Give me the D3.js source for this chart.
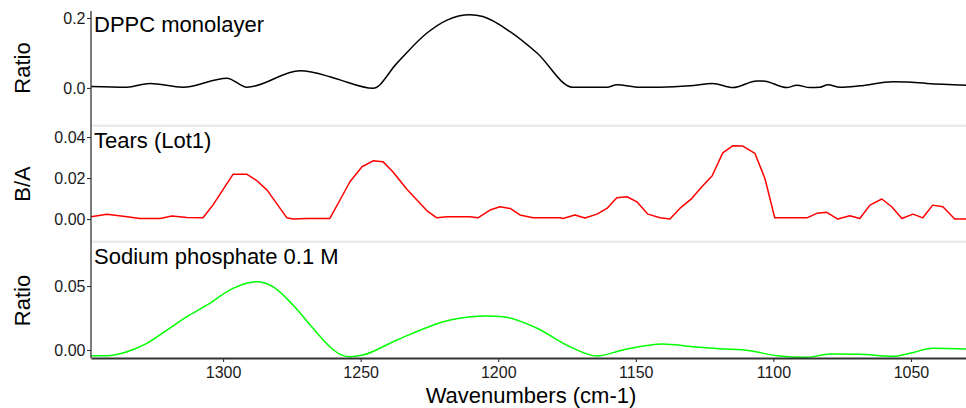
<!DOCTYPE html>
<html>
<head>
<meta charset="utf-8">
<script src="https://cdn.jsdelivr.net/npm/d3@7"></script>
<style>
  html, body { margin: 0; padding: 0; background: #fff; }
  svg { display: block; font-family: "Liberation Sans", Arial, sans-serif; }
</style>
</head>
<body>
<div id="chart"></div>
<script>
// DPPC monolayer (black)
const dppcWn = [1348, 1335, 1326.6, 1314.6, 1298.6, 1291.3, 1272, 1261.2, 1257.5, 1245.5, 1236.8,
  1225.9, 1218.6, 1210.3, 1205.6, 1195.7, 1185.9, 1172.9, 1160.5, 1156.9, 1148.5, 1141.2, 1130.3,
  1122, 1114.7, 1106, 1103.8, 1095.1, 1091.5, 1086.7, 1083.1, 1080.2, 1075.8, 1068.6, 1056.6,
  1051.5, 1044.2, 1030];
const dppcRatio = [0.004, 0.002, 0.013, 0.002, 0.028, 0.002, 0.049, 0.032, 0.023, -0.001, 0.071,
  0.157, 0.194, 0.209, 0.204, 0.161, 0.100, 0.002, 0.002, 0.009, 0.002, 0.002, 0.006,
  0.013, 0.001, 0.020, 0.020, 0.001, 0.008, 0.001, 0.002, 0.009, 0.002, 0.006, 0.018,
  0.017, 0.013, 0.008];

// Tears (Lot1) (red)
const tearsWn = [1348, 1342.2, 1334.9, 1330.2, 1322.9, 1318.6, 1313.1, 1307.3, 1303.7, 1296.4,
  1291.3, 1287.7, 1284, 1276.8, 1274.6, 1269.5, 1261.2, 1257.5, 1253.9, 1249.5, 1245.5, 1241.9,
  1238.3, 1233.2, 1225.9, 1222.3, 1218.6, 1215, 1210.3, 1207.4, 1203, 1199.4, 1195.7, 1192.1,
  1187.4, 1177.6, 1176.5, 1172.1, 1168.5, 1164.1, 1160.5, 1156.9, 1153.2, 1149.6, 1145.6, 1141.2,
  1137.6, 1134, 1129.6, 1126, 1122.3, 1118.4, 1114.7, 1111.1, 1106.7, 1103.1, 1099.5, 1092.9,
  1087.8, 1084.2, 1080.6, 1076.6, 1072.2, 1068.6, 1064.9, 1060.6, 1057, 1053.3, 1049.3, 1045.7,
  1042.1, 1038.4, 1034.1, 1030];
const tearsBA = [0.0011, 0.0023, 0.0011, 0.0003, 0.0003, 0.0015, 0.0008, 0.0006, 0.0068, 0.0218,
  0.0218, 0.0187, 0.0141, 0.0006, 0.0000, 0.0003, 0.0003, 0.0093, 0.0182, 0.0255, 0.0284, 0.0280,
  0.0231, 0.0145, 0.0040, 0.0006, 0.0011, 0.0011, 0.0011, 0.0006, 0.0044, 0.0060, 0.0052, 0.0020,
  0.0006, 0.0006, 0.0003, 0.0020, 0.0005, 0.0024, 0.0052, 0.0104, 0.0109, 0.0084, 0.0024, 0.0006,
  0.0000, 0.0052, 0.0101, 0.0158, 0.0210, 0.0323, 0.0358, 0.0356, 0.0320, 0.0199, 0.0006, 0.0006,
  0.0006, 0.0028, 0.0033, 0.0000, 0.0016, 0.0003, 0.0068, 0.0098, 0.0060, 0.0003, 0.0024, 0.0006,
  0.0068, 0.0060, 0.0000, 0.0000];

// Sodium phosphate 0.1 M (green)
const phosWn = [1348, 1342.2, 1334.9, 1327.7, 1320.4, 1313.1, 1305.8, 1296.4, 1287.7, 1281.9,
  1274.6, 1267.3, 1261.2, 1257.5, 1253.9, 1249.2, 1236.8, 1217.5, 1204.1, 1198.3, 1185.9, 1174,
  1164.1, 1154.7, 1140.2, 1129.3, 1119.4, 1108.5, 1098.7, 1087.8, 1079.5, 1068.6, 1056.6, 1050.4,
  1042.1, 1030];
const phosRatio = [-0.0045, -0.0045, -0.0013, 0.0052, 0.0156, 0.0260, 0.0352, 0.0482, 0.0534, 0.0495,
  0.0352, 0.0170, 0.0026, -0.0034, -0.0052, -0.0039, 0.0078, 0.0234, 0.0266, 0.0260, 0.0170, 0.0026,
  -0.0047, 0.0000, 0.0047, 0.0026, 0.0010, -0.0005, -0.0045, -0.0057, -0.0031, -0.0034, -0.0049, -0.0026,
  0.0013, 0.0008];

const xTicks = [1300, 1250, 1200, 1150, 1100, 1050];

const panels = [
  { title: 'DPPC monolayer', yLabel: 'Ratio', wn: dppcWn, vals: dppcRatio, color: '#000000',
    domain: [-0.106, 0.22], ticks: [0.0, 0.2], fmt: '.1f', top: 11, bottom: 125, curve: d3.curveMonotoneX },
  { title: 'Tears (Lot1)', yLabel: 'B/A', wn: tearsWn, vals: tearsBA, color: '#ff0000',
    domain: [-0.0107, 0.0449], ticks: [0.00, 0.02, 0.04], fmt: '.2f', top: 127, bottom: 241, curve: d3.curveLinear },
  { title: 'Sodium phosphate 0.1 M', yLabel: 'Ratio', wn: phosWn, vals: phosRatio, color: '#00ff00',
    domain: [-0.00625, 0.0836], ticks: [0.00, 0.05], fmt: '.2f', top: 243, bottom: 358, curve: d3.curveMonotoneX },
];

const W = 966, H = 408;
const LEFT = 91, RIGHT = 966;

const svg = d3.select('#chart').append('svg')
  .attr('width', W).attr('height', H);

const x = d3.scaleLinear().domain([1348, 1030]).range([LEFT, RIGHT]);

panels.forEach((p, i) => {
  const y = d3.scaleLinear().domain(p.domain).range([p.bottom, p.top]);

  // separator band above panels 2 and 3
  if (i > 0) {
    svg.append('rect')
      .attr('x', LEFT).attr('y', p.top - 2.5)
      .attr('width', RIGHT - LEFT).attr('height', 2.5)
      .attr('fill', '#ebebeb');
  }

  const ax = svg.append('g')
    .attr('transform', `translate(${LEFT},0)`)
    .call(d3.axisLeft(y).tickValues(p.ticks).tickFormat(d3.format(p.fmt)).tickSize(4).tickSizeOuter(0));
  ax.select('.domain').remove();
  ax.selectAll('line').attr('stroke', '#333').attr('stroke-width', 1.1);
  ax.selectAll('text').attr('fill', '#1a1a1a').style('font-size', '16px').attr('x', -5.5);

  // y title
  svg.append('text')
    .attr('transform', `translate(30,${(p.top + p.bottom) / 2}) rotate(-90)`)
    .attr('text-anchor', 'middle')
    .attr('fill', '#000')
    .style('font-size', '22px')
    .text(p.yLabel);

  // series
  const data = p.wn.map((w, k) => [w, p.vals[k]]);
  svg.append('path')
    .datum(data)
    .attr('d', d3.line().x(d => x(d[0])).y(d => y(d[1])).curve(p.curve))
    .attr('fill', 'none')
    .attr('stroke', p.color)
    .attr('stroke-width', 1.5)
    .attr('stroke-linejoin', 'round');

  // panel title
  svg.append('text')
    .attr('x', LEFT + 3)
    .attr('y', p.top + 21)
    .attr('fill', '#000')
    .style('font-size', '22px')
    .text(p.title);
});

// left axis line
svg.append('line')
  .attr('x1', LEFT).attr('x2', LEFT)
  .attr('y1', 11).attr('y2', 358.5)
  .attr('stroke', '#333').attr('stroke-width', 1.3);

// bottom axis
const bx = svg.append('g')
  .attr('transform', 'translate(0,358)')
  .call(d3.axisBottom(x).tickValues(xTicks).tickFormat(d3.format('d')).tickSize(4).tickSizeOuter(0));
bx.select('.domain').attr('stroke', '#333').attr('stroke-width', 2);
bx.selectAll('line').attr('stroke', '#333').attr('stroke-width', 1.1);
bx.selectAll('text').attr('fill', '#1a1a1a').style('font-size', '16px').attr('dy', '0.8em');

svg.append('text')
  .attr('x', 531)
  .attr('y', 403)
  .attr('text-anchor', 'middle')
  .attr('fill', '#000')
  .style('font-size', '22px')
  .text('Wavenumbers (cm-1)');
</script>
</body>
</html>
